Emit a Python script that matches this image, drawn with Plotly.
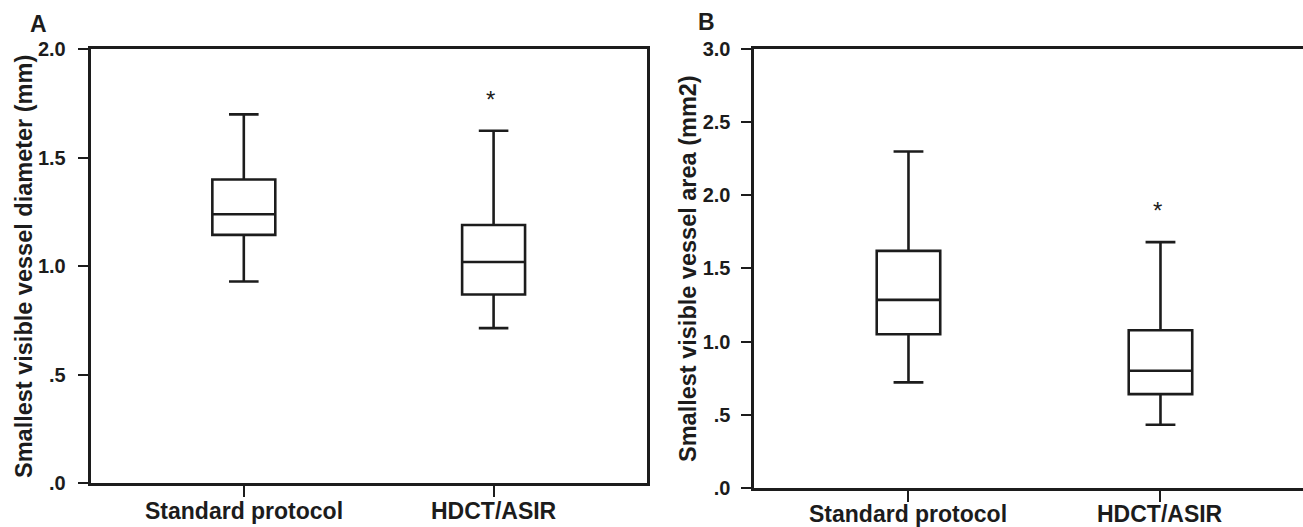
import plotly.graph_objects as go

# ---------------- data ----------------
categories = ["Standard protocol", "HDCT/ASIR"]

# Panel A: smallest visible vessel diameter (mm)
a_lower = [0.93, 0.715]
a_q1 = [1.145, 0.87]
a_median = [1.24, 1.02]
a_q3 = [1.40, 1.19]
a_upper = [1.70, 1.625]
a_extreme_cat = [1]
a_extreme_val = [1.79]

# Panel B: smallest visible vessel area (mm2)
b_lower = [0.72, 0.43]
b_q1 = [1.05, 0.64]
b_median = [1.285, 0.80]
b_q3 = [1.62, 1.077]
b_upper = [2.30, 1.68]
b_extreme_cat = [1]
b_extreme_val = [1.93]

a_yticks = [0, 0.5, 1.0, 1.5, 2.0]
a_yticklabels = [".0", ".5", "1.0", "1.5", "2.0"]
b_yticks = [0, 0.5, 1.0, 1.5, 2.0, 2.5, 3.0]
b_yticklabels = [".0", ".5", "1.0", "1.5", "2.0", "2.5", "3.0"]

# ---------------- figure ----------------
W, H = 1303, 527
INK = "#1c1c1c"
FONT = "Liberation Sans, Arial, Helvetica, sans-serif"

fig = go.Figure()

def add_box(lower, q1, med, q3, upper, xa, ya):
    fig.add_trace(go.Box(
        x=[0, 1], lowerfence=lower, q1=q1, median=med, q3=q3, upperfence=upper,
        width=0.252, whiskerwidth=0.47,
        fillcolor="white", line=dict(color=INK, width=2.6),
        boxpoints=False, showlegend=False, hoverinfo="skip",
        xaxis=xa, yaxis=ya,
    ))

add_box(a_lower, a_q1, a_median, a_q3, a_upper, "x", "y")
add_box(b_lower, b_q1, b_median, b_q3, b_upper, "x2", "y2")

def px_x(p):
    return p / W

def px_y(p):
    return 1 - p / H

A_dom_x = [px_x(90.7), px_x(646.7)]
A_dom_y = [px_y(483.3), px_y(49.3)]
B_dom_x = [px_x(753.5), 1.0]
B_dom_y = [px_y(487.6), px_y(49.3)]

b_unit = 252.0
b_right = -0.615 + (W - 753.5) / b_unit

tickfont = dict(family=FONT, size=20, color=INK, weight="bold")
catfont = dict(family=FONT, size=23, color=INK, weight="bold")

common_x = dict(
    type="linear", tickmode="array", tickvals=[0, 1], showticklabels=False,
    showgrid=False, zeroline=False, showline=True, linecolor=INK, linewidth=3,
    ticks="outside", ticklen=11, tickwidth=1.5, tickcolor=INK, automargin=False,
)
common_y = dict(
    showgrid=False, zeroline=False, showline=True, linecolor=INK, linewidth=3,
    ticks="outside", ticklen=10, tickwidth=1.5, tickcolor=INK,
    tickfont=tickfont, tickmode="array", automargin=False,
)

fig.update_layout(
    template="none",
    width=W, height=H, autosize=False,
    margin=dict(l=0, r=0, t=0, b=0, pad=0, autoexpand=False),
    paper_bgcolor="white", plot_bgcolor="white",
    xaxis=dict(domain=A_dom_x, range=[-0.613, 1.613], mirror=True, anchor="y", **common_x),
    yaxis=dict(domain=A_dom_y, range=[0, 2.0], mirror=True, anchor="x",
               tickvals=a_yticks, ticktext=a_yticklabels, ticklabelstandoff=8, **common_y),
    xaxis2=dict(domain=B_dom_x, range=[-0.615, b_right], mirror=True, anchor="y2", **common_x),
    yaxis2=dict(domain=B_dom_y, range=[0, 3.0], mirror=False, anchor="x2",
                tickvals=b_yticks, ticktext=b_yticklabels, ticklabelstandoff=6, **common_y),
    showlegend=False,
)

# category labels under each panel
for xr, ypx in [("x", 511), ("x2", 514)]:
    for i, name in enumerate(categories):
        fig.add_annotation(x=i, y=px_y(ypx), xref=xr, yref="paper", text=name,
                           showarrow=False, xanchor="center", yanchor="middle",
                           font=catfont)

# extreme-value asterisks
for cats, vals, xr, yr in [(a_extreme_cat, a_extreme_val, "x", "y"),
                            (b_extreme_cat, b_extreme_val, "x2", "y2")]:
    for c, v in zip(cats, vals):
        fig.add_annotation(x=c, y=v, xref=xr, yref=yr, text="*", showarrow=False,
                           font=dict(family=FONT, size=24, color=INK),
                           xshift=-3, yshift=-5, yanchor="middle")

# y-axis titles
fig.add_annotation(x=px_x(24), y=px_y(267), xref="paper", yref="paper",
                   text="Smallest visible vessel diameter (mm)", textangle=-90,
                   showarrow=False, xanchor="center", yanchor="middle",
                   font=dict(family=FONT, size=23.5, color=INK, weight="bold"))
fig.add_annotation(x=px_x(688), y=px_y(268), xref="paper", yref="paper",
                   text="Smallest visible vessel area (mm2)", textangle=-90,
                   showarrow=False, xanchor="center", yanchor="middle",
                   font=dict(family=FONT, size=23.5, color=INK, weight="bold"))

# panel letters
fig.add_annotation(x=px_x(38), y=px_y(24), xref="paper", yref="paper", text="A",
                   showarrow=False, xanchor="center", yanchor="middle",
                   font=dict(family=FONT, size=23, color=INK, weight="bold"))
fig.add_annotation(x=px_x(706), y=px_y(22), xref="paper", yref="paper", text="B",
                   showarrow=False, xanchor="center", yanchor="middle",
                   font=dict(family=FONT, size=23, color=INK, weight="bold"))

fig.write_html("out.html", config={"displayModeBar": False},
               post_script="document.body.style.margin='0';")
